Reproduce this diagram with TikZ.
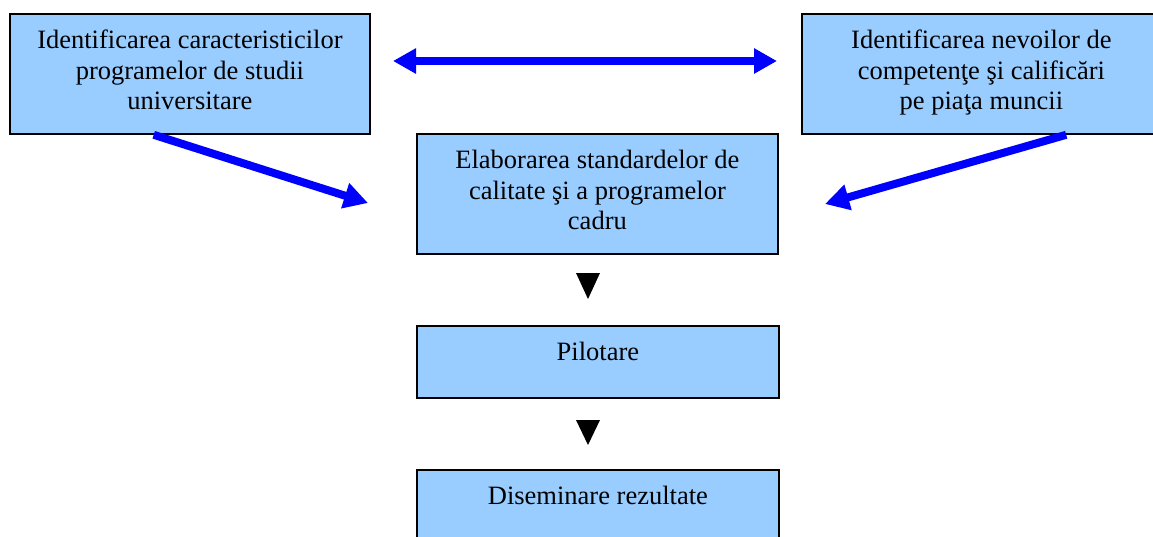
\documentclass[tikz,border=0pt]{standalone}
\usepackage{fontspec}
\setmainfont{Liberation Serif}
\usetikzlibrary{arrows.meta,calc}
\definecolor{boxblue}{HTML}{99CCFF}
\definecolor{arrblue}{HTML}{0000FF}
\tikzset{
  box/.style={draw=black, line width=1.8pt, fill=boxblue, rectangle, inner sep=0pt, anchor=north west},
  txt/.style={font=\fontsize{26.5}{30.5}\selectfont, align=center, inner sep=0pt, anchor=north},
  bluearrow/.style={draw=arrblue, line width=8pt, -{Triangle[length=24pt,width=25pt]}},
  bluedouble/.style={draw=arrblue, line width=8pt, {Triangle[length=23pt,width=24pt]}-{Triangle[length=23pt,width=24pt]}},
  blacktip/.style={fill=black, draw=none}
}
\begin{document}
\begin{tikzpicture}[x=1pt, y=-1pt]
\useasboundingbox (0,0) rectangle (1153,536);
% boxes
\node[box, minimum width=360pt, minimum height=120pt] (left) at (9,13) {};
\node[box, minimum width=359pt, minimum height=120pt] (right) at (801,13) {};
\node[box, minimum width=361pt, minimum height=120pt] (mid) at (416,133) {};
\node[box, minimum width=362pt, minimum height=72pt] (pilot) at (416,325) {};
\node[box, minimum width=362pt, minimum height=90pt] (dis) at (416,469) {};
% texts
\node[txt] (lefttxt) at ([yshift=-17pt]left.north) {Identificarea caracteristicilor\\programelor de studii\\universitare};
\node[txt] (righttxt) at ([yshift=-17pt]right.north) {Identificarea nevoilor de\\competenţe şi calificări\\pe piaţa muncii};
\node[txt] (midtxt) at ([yshift=-17pt]mid.north) {Elaborarea standardelor de\\calitate şi a programelor\\cadru};
\node[txt] (pilottxt) at ([yshift=-17pt]pilot.north) {Pilotare};
\node[txt] (distxt) at ([yshift=-17pt]dis.north) {Diseminare rezultate};
% connector endpoints
\coordinate (dl) at (393,61);
\coordinate (dr) at (777,61);
\coordinate (lend) at (368,203);
\coordinate (rend) at (825,204);
\coordinate (lstart) at ($(left.south west)!0.4!(left.south east)$);
\coordinate (rstart) at ($(right.south west)!0.735!(right.south east)$);
% blue arrows
\draw[bluedouble] (dl) -- (dr);
\draw[bluearrow] (lstart) -- (lend);
\draw[bluearrow] (rstart) -- (rend);
% black arrowheads
\fill[blacktip] (576,273) -- (600,273) -- (588,299) -- cycle;
\fill[blacktip] (576,420) -- (600,420) -- (588,445) -- cycle;
\end{tikzpicture}
\end{document}
